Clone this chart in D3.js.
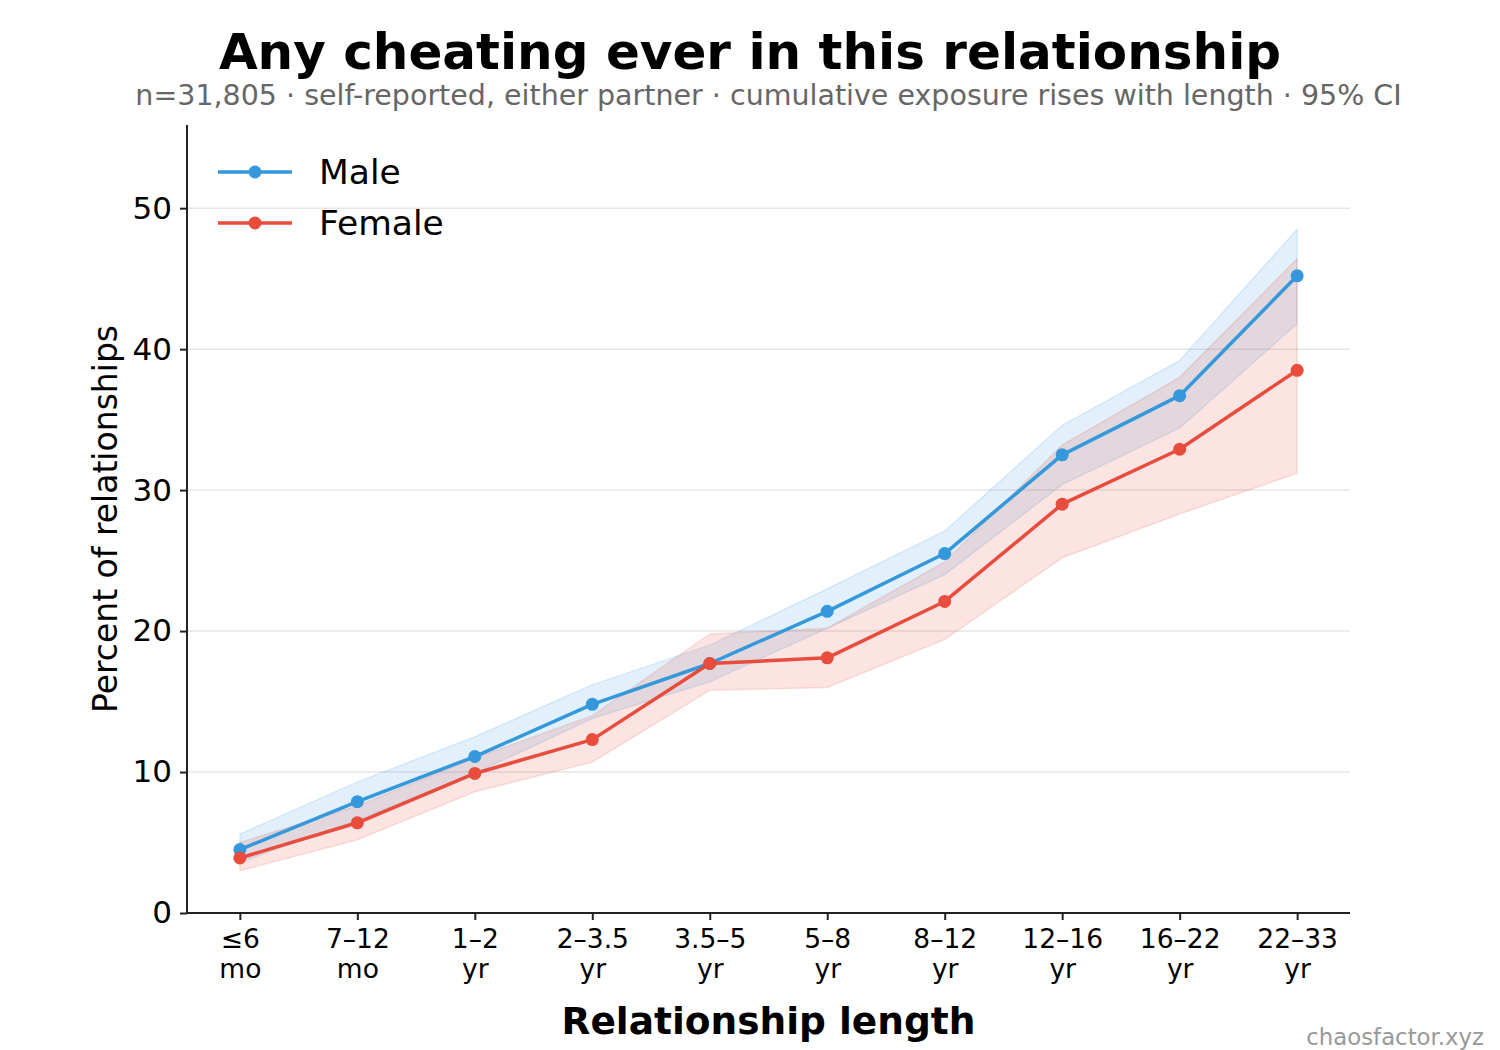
<!DOCTYPE html>
<html>
<head>
<meta charset="utf-8">
<script src="https://cdn.jsdelivr.net/npm/d3@7"></script>
<style>
  body { margin: 0; background: #fff; }
  svg { font-family: "DejaVu Sans", sans-serif; }
</style>
</head>
<body>
<svg id="chart" width="1500" height="1050"></svg>
<script>
// categories (two-line tick labels)
var categories = [["≤6","mo"],["7–12","mo"],["1–2","yr"],["2–3.5","yr"],["3.5–5","yr"],
                  ["5–8","yr"],["8–12","yr"],["12–16","yr"],["16–22","yr"],["22–33","yr"]];

// series values, percent
var male      = [4.5, 7.9, 11.1, 14.8, 17.7, 21.4, 25.5, 32.5, 36.7, 45.2];
var maleLo    = [3.6, 6.6, 9.9, 13.8, 16.4, 20.2, 24.0, 30.4, 34.4, 41.8];
var maleHi    = [5.6, 9.3, 12.5, 16.2, 19.0, 23.0, 27.1, 34.6, 39.2, 48.5];
var female    = [3.9, 6.4, 9.9, 12.3, 17.7, 18.1, 22.1, 29.0, 32.9, 38.5];
var femaleLo  = [3.0, 5.2, 8.6, 10.7, 15.8, 16.0, 19.4, 25.2, 28.3, 31.2];
var femaleHi  = [5.0, 7.6, 11.0, 14.0, 19.8, 20.2, 24.9, 33.2, 38.0, 46.4];
var yTicks    = [0, 10, 20, 30, 40, 50];

var series = [
  {name: "Male",   color: "#3498db", v: male,   lo: maleLo,   hi: maleHi},
  {name: "Female", color: "#e74c3c", v: female, lo: femaleLo, hi: femaleHi}
];

var margin = {top: 125, right: 150, bottom: 137, left: 187},
    width = 1500 - margin.left - margin.right,
    height = 1050 - margin.top - margin.bottom;

var svg = d3.select("#chart");
var g = svg.append("g")
    .attr("transform", "translate(" + margin.left + "," + margin.top + ")");

var x = d3.scaleLinear().domain([-0.45, categories.length - 0.55]).range([0, width]);
var y = d3.scaleLinear().domain([0, 55.9]).range([height, 0]);

// grid
g.selectAll(".grid").data(yTicks.slice(1)).enter().append("line")
    .attr("x1", 0).attr("x2", width)
    .attr("y1", function(d) { return y(d); })
    .attr("y2", function(d) { return y(d); })
    .attr("stroke", "#e6e6e6").attr("stroke-width", 1.5);

// CI bands
var area = d3.area()
    .x(function(d) { return x(d.i); })
    .y0(function(d) { return y(d.lo); })
    .y1(function(d) { return y(d.hi); });

series.forEach(function(s) {
  var pts = s.v.map(function(v, i) { return {i: i, lo: s.lo[i], hi: s.hi[i]}; });
  g.append("path").datum(pts)
      .attr("d", area)
      .attr("fill", s.color).attr("fill-opacity", 0.15)
      .attr("stroke", s.color).attr("stroke-opacity", 0.15).attr("stroke-width", 1.5);
});

// lines + markers
var line = d3.line()
    .x(function(d, i) { return x(i); })
    .y(function(d) { return y(d); });

series.forEach(function(s) {
  g.append("path").datum(s.v)
      .attr("d", line)
      .attr("fill", "none").attr("stroke", s.color)
      .attr("stroke-width", 3.5).attr("stroke-linejoin", "round");
  g.selectAll(null).data(s.v).enter().append("circle")
      .attr("cx", function(d, i) { return x(i); })
      .attr("cy", function(d) { return y(d); })
      .attr("r", 6.5).attr("fill", s.color);
});

// axes
var yAxis = d3.axisLeft(y).tickValues(yTicks).tickSize(7).tickPadding(8).tickFormat(d3.format("d"));
var yg = g.append("g").call(yAxis);
yg.select(".domain").attr("stroke", "#222").attr("stroke-width", 2)
    .attr("d", "M0," + height + "V0");
yg.selectAll(".tick line").attr("stroke", "#222").attr("stroke-width", 2);
yg.selectAll(".tick text").attr("font-size", 31).attr("fill", "#000")
    .attr("font-family", "DejaVu Sans");

var xAxis = d3.axisBottom(x).tickValues(d3.range(categories.length)).tickSize(7).tickFormat("");
var xg = g.append("g").attr("transform", "translate(0," + height + ")").call(xAxis);
xg.select(".domain").attr("stroke", "#222").attr("stroke-width", 2)
    .attr("d", "M0,0H" + width);
xg.selectAll(".tick line").attr("stroke", "#222").attr("stroke-width", 2);
xg.selectAll(".tick").each(function(d) {
  var t = d3.select(this).append("text")
      .attr("text-anchor", "middle").attr("fill", "#000")
      .attr("font-size", 26.5).attr("font-family", "DejaVu Sans");
  t.append("tspan").attr("x", 0).attr("y", 35).text(categories[d][0]);
  t.append("tspan").attr("x", 0).attr("y", 65).text(categories[d][1]);
});

// axis labels
g.append("text")
    .attr("x", width / 2).attr("y", height + 121)
    .attr("text-anchor", "middle")
    .attr("font-size", 37.5).attr("font-weight", "bold")
    .text("Relationship length");

g.append("text")
    .attr("transform", "translate(-70," + (height / 2) + ") rotate(-90)")
    .attr("text-anchor", "middle")
    .attr("font-size", 33)
    .text("Percent of relationships");

// legend
var legend = g.append("g").attr("transform", "translate(31,47)");
series.forEach(function(s, i) {
  var lg = legend.append("g").attr("transform", "translate(0," + (i * 51) + ")");
  lg.append("line").attr("x1", 0).attr("x2", 74).attr("y1", 0).attr("y2", 0)
      .attr("stroke", s.color).attr("stroke-width", 3.5);
  lg.append("circle").attr("cx", 37).attr("cy", 0).attr("r", 6.5).attr("fill", s.color);
  lg.append("text").attr("x", 101).attr("y", 12)
      .attr("font-size", 34.5).attr("fill", "#000").text(s.name);
});

// titles
svg.append("text")
    .attr("x", 750).attr("y", 69)
    .attr("text-anchor", "middle")
    .attr("font-size", 50).attr("font-weight", "bold")
    .text("Any cheating ever in this relationship");

svg.append("text")
    .attr("x", margin.left + width / 2).attr("y", 105)
    .attr("text-anchor", "middle")
    .attr("font-size", 28.5).attr("fill", "#666")
    .text("n=31,805 · self-reported, either partner · cumulative exposure rises with length · 95% CI");

svg.append("text")
    .attr("x", 1484).attr("y", 1045)
    .attr("text-anchor", "end")
    .attr("font-size", 22.8).attr("fill", "#999")
    .text("chaosfactor.xyz");
</script>
</body>
</html>
